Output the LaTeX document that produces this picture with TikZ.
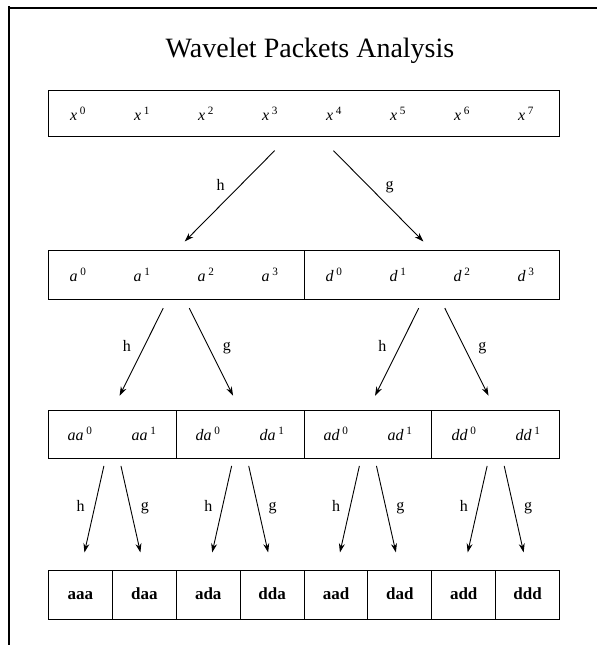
\documentclass[tikz,border=0pt]{standalone}
\usepackage{fontspec}
\setmainfont{Liberation Serif}
\usetikzlibrary{arrows.meta}

\tikzset{
  cell/.style={draw, line width=1.1pt, inner sep=0pt, anchor=north west, minimum height=49pt},
  filt/.style={-{Stealth[length=9pt,width=6pt]}, line width=0.9pt},
  coef/.style={font=\fontsize{16}{16}\selectfont\itshape},
  leaf/.style={font=\fontsize{17}{17}\selectfont\bfseries, text height=0.9em, text depth=0em},
  flt/.style={font=\fontsize{16}{16}\selectfont, inner sep=1pt}
}

% #1 parent, #2 low-pass child, #3 high-pass child, #4 offset,
% #5 shorten start, #6 shorten end, #7 label distance
\newcommand{\drawsplit}[7]{
  \draw[filt, shorten <=#5, shorten >=#6] ([xshift=-#4]#1.south) -- (#2.north)
    node[flt, pos=0.42, left=#7] (#2h) {h};
  \draw[filt, shorten <=#5, shorten >=#6] ([xshift=#4]#1.south) -- (#3.north)
    node[flt, pos=0.44, right=#7] (#3g) {g};
}
\newcommand{\coeflabel}[2]{#1\,\textsuperscript{\upshape #2}}

\begin{document}
\begin{tikzpicture}[x=1pt,y=-1pt]
  \useasboundingbox (0,0) rectangle (597,645);
  % frame
  \coordinate (fa) at (10,8);
  \coordinate (fb) at (597,8);
  \coordinate (fc) at (9,645);
  \draw[line width=2.6pt] (fa) -- (fb);
  \draw[line width=1.5pt] ([yshift=1.3pt]fa.center) -| (fc);
  \node[font=\fontsize{28}{28}\selectfont] (title) at (310,51) {Wavelet Packets Analysis};

  % signal
  \node[cell, minimum width=511pt, minimum height=46pt] (x) at (48,90) {};
  \foreach \i in {0,...,7}
    \node[coef] (x\i) at (78+64*\i,114) {\coeflabel{x}{\i}};

  % level 1
  \node[cell, minimum width=255.5pt] (a) at (48,250) {};
  \node[cell, minimum width=255.5pt] (d) at (303.5,250) {};
  \foreach \i in {0,...,3}{
    \node[coef] (a\i) at (78+64*\i,275) {\coeflabel{a}{\i}};
    \node[coef] (d\i) at (334+64*\i,275) {\coeflabel{d}{\i}};
  }

  % level 2
  \foreach \n [count=\k from 0] in {aa,da,ad,dd}{
    \node[cell, minimum width=127.75pt, minimum height=48pt] (\n) at (48+127.75*\k,410) {};
    \node[coef] (\n0) at (80+128*\k,434) {\coeflabel{\n}{0}};
    \node[coef] (\n1) at (144+128*\k,434) {\coeflabel{\n}{1}};
  }

  % level 3
  \foreach \n [count=\k from 0] in {aaa,daa,ada,dda,aad,dad,add,ddd}
    \node[cell, leaf, minimum width=63.875pt] (\n) at (48+63.875*\k,570) {\n};

  \drawsplit{x}{a}{d}{16pt}{19pt}{12pt}{15pt}
  \drawsplit{a}{aa}{da}{9pt}{9pt}{16pt}{12pt}
  \drawsplit{d}{ad}{dd}{9pt}{9pt}{16pt}{12pt}
  \drawsplit{aa}{aaa}{daa}{7pt}{7pt}{18pt}{9pt}
  \drawsplit{da}{ada}{dda}{7pt}{7pt}{18pt}{9pt}
  \drawsplit{ad}{aad}{dad}{7pt}{7pt}{18pt}{9pt}
  \drawsplit{dd}{add}{ddd}{7pt}{7pt}{18pt}{9pt}
\end{tikzpicture}
\end{document}
